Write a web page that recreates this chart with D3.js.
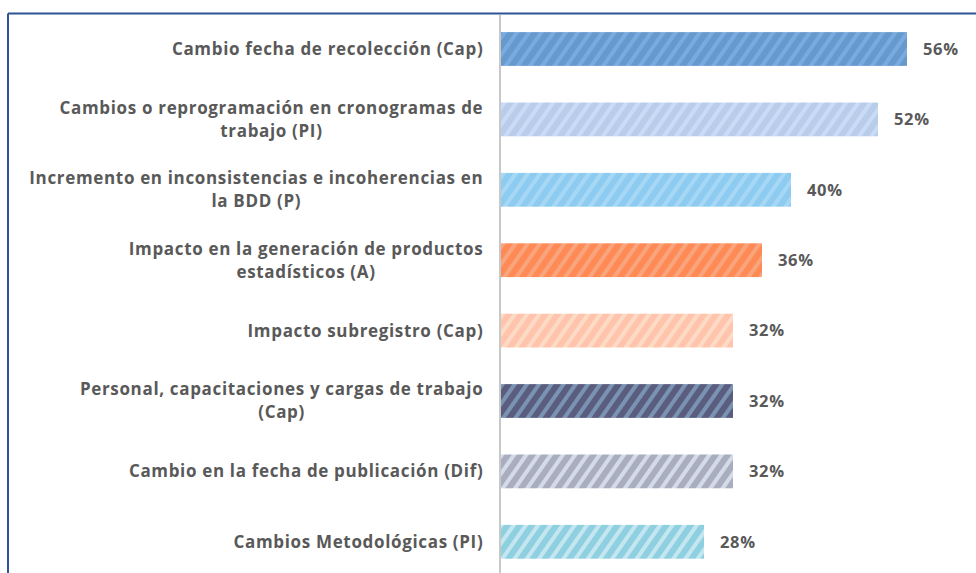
<!DOCTYPE html>
<html>
<head>
<meta charset="utf-8">
<script src="https://cdn.jsdelivr.net/npm/d3@7"></script>
<style>
  body { margin: 0; background: #fff; }
  svg { display: block; }
  text { font-family: "Open Sans", "Lato", sans-serif; font-weight: 700; fill: #595959; }
</style>
</head>
<body>
<svg width="976" height="573"></svg>
<script>
const categories = [
  ["Cambio fecha de recolección (Cap)"],
  ["Cambios o reprogramación en cronogramas de", "trabajo (PI)"],
  ["Incremento en inconsistencias e incoherencias en", "la BDD (P)"],
  ["Impacto en la generación de productos", "estadísticos (A)"],
  ["Impacto subregistro (Cap)"],
  ["Personal, capacitaciones y cargas de trabajo", "(Cap)"],
  ["Cambio en la fecha de publicación (Dif)"],
  ["Cambios Metodológicas (PI)"],
];
const values = [56, 52, 40, 36, 32, 32, 32, 28];
const baseColors = ["#6699cc", "#b9cce9", "#8ecbf0", "#ff8a55", "#ffc4ab", "#5a5d7e", "#a9adbe", "#8ecfe0"];
const stripeColors = ["#7aaae2", "#cadbf6", "#a6d8f6", "#f8a47c", "#fcdbc6", "#7a93b3", "#d3dbe8", "#c4e6f0"];

const W = 976, H = 573;
const LEFT = 501;
const LABEL_RIGHT = 483;
const LONGEST = 454; // width of the widest label line

const svg = d3.select("svg");
const defs = svg.append("defs");

// hatch patterns, one per bar
baseColors.forEach((c, i) => {
  const p = defs.append("pattern")
    .attr("id", "hatch" + i)
    .attr("patternUnits", "userSpaceOnUse")
    .attr("width", 10).attr("height", 10)
    .attr("patternTransform", "rotate(35)");
  p.append("rect").attr("width", 10).attr("height", 10).attr("fill", c);
  p.append("rect").attr("width", 4).attr("height", 10).attr("fill", stripeColors[i]);
});

const x = d3.scaleLinear().domain([0, 100]).range([LEFT, LEFT + 725]);
const y = d3.scaleBand()
  .domain(d3.range(categories.length))
  .range([13.8, 577])
  .paddingInner(0.52)
  .paddingOuter(0.26);

// frame
svg.append("line").attr("x1", 8).attr("x2", W).attr("y1", 13.5).attr("y2", 13.5)
  .attr("stroke", "#2f5496").attr("stroke-width", 2);
svg.append("line").attr("x1", 8).attr("x2", 8).attr("y1", 13.5).attr("y2", H)
  .attr("stroke", "#2f5496").attr("stroke-width", 2);

// bars
svg.selectAll(".bar")
  .data(values)
  .join("rect")
  .attr("class", "bar")
  .attr("x", x(0))
  .attr("y", (d, i) => y(i))
  .attr("width", d => x(d) - x(0))
  .attr("height", y.bandwidth())
  .attr("fill", (d, i) => `url(#hatch${i})`);

// axis line
svg.append("line").attr("x1", 500).attr("x2", 500).attr("y1", 15).attr("y2", H)
  .attr("stroke", "#c8c8c8").attr("stroke-width", 2);

// category labels: block right-aligned, lines centred within block
const fs = 17;
const labels = svg.selectAll(".cat")
  .data(categories)
  .join("text")
  .attr("class", "cat")
  .attr("font-size", fs);

// small extra letter spacing so the longest line fits the reference width
const probe = svg.append("text").attr("font-size", fs).text(categories[2][0]);
const probeW = probe.node().getComputedTextLength();
const ls = Math.max(0, (LONGEST - probeW) / categories[2][0].length);
probe.remove();
labels.attr("letter-spacing", ls);

labels.each(function (lines, i) {
  const t = d3.select(this);
  const cy = y(i) + y.bandwidth() / 2;
  const tsp = t.selectAll("tspan").data(lines).join("tspan").text(d => d);
  const widths = [];
  tsp.each(function () { widths.push(this.getComputedTextLength()); });
  const maxW = d3.max(widths);
  const lh = 23;
  const top = cy - (lines.length - 1) * lh / 2;
  tsp.attr("x", LABEL_RIGHT - maxW / 2 + ls / 2)
    .attr("text-anchor", "middle")
    .attr("y", (d, k) => top + k * lh)
    .attr("dy", "0.35em");
});

// value labels
svg.selectAll(".val")
  .data(values)
  .join("text")
  .attr("class", "val")
  .attr("x", d => x(d) + 16)
  .attr("y", (d, i) => y(i) + y.bandwidth() / 2)
  .attr("dy", "0.35em")
  .attr("font-size", 16.5)
  .attr("letter-spacing", ls)
  .text(d => d + "%");
</script>
</body>
</html>
